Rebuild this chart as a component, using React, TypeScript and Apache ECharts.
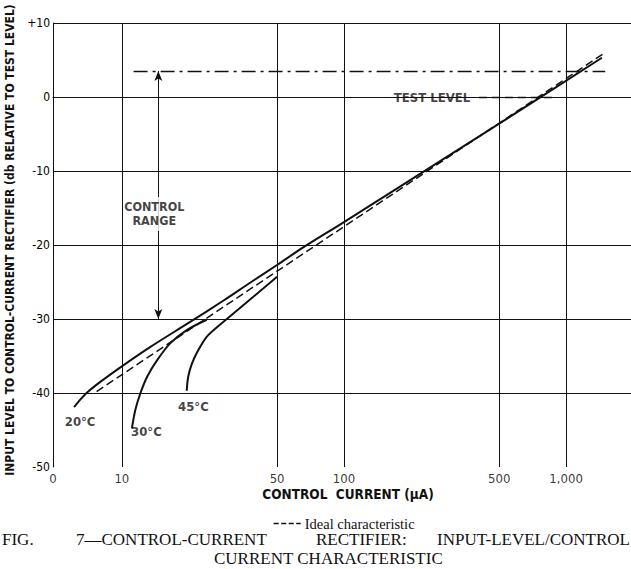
import React, { useEffect, useRef } from 'react';
import * as echarts from 'echarts';

// ---- data ----
const xTicks = [4.9, 10, 50, 100, 500, 1000];
const xTickLabels = ['0', '10', '50', '100', '500', '1,000'];
const vGrid = [10, 50, 100, 500, 1000];
const hGrid = [10, -10, -20, -30, -40];

const curve20 = [
  [6.1, -41.9], [6.5, -40.9], [7.0, -39.9], [8.0, -38.5], [10, -36.4], [13.4, -33.8],
  [20.3, -30.4], [28.7, -27.5], [37.8, -25.1], [50, -22.7], [65, -20.4], [100, -16.9],
  [500, -3.6], [1450, 5.3],
];
const curve30 = [
  [11.1, -44.8], [11.5, -42.3], [12.1, -40.1], [13.0, -37.8], [14.4, -35.6], [16.5, -33.3],
  [19.6, -31.5], [24.1, -30.1],
];
const curve45 = [
  [19.6, -39.7], [19.9, -37.8], [20.7, -36.0], [22.1, -34.2], [24.1, -32.4], [26.8, -31.1],
  [29.7, -30.0], [50, -24.3],
];
const ideal = [[7.7, -39.8], [1480, 5.9]];

const xMin = 4.9;
const xMax = 1960;
const yMin = -50;
const yMax = 10;

const testLevelSegments = [
  { from: 4.9, to: 153, dashed: false },
  { from: 405, to: 875, dashed: true },
  { from: 875, to: 1960, dashed: false },
];
const maxLevel = { db: 3.5, from: 11.3, to: 1500 };
const controlRange = { current: 14.6, top: 3.5, bottom: -30 };

const annotations = [
  { text: '20°C', x: 6.49, y: -43.8 },
  { text: '30°C', x: 12.9, y: -45.2 },
  { text: '45°C', x: 21.0, y: -41.8 },
  { text: 'TEST LEVEL', x: 249, y: 0 },
];
const controlRangeLabel = { text: 'CONTROL\nRANGE', x: 14.0, y: -15.8 };

const captionLine1 = [
  { text: 'FIG.', left: 2 },
  { text: '7—CONTROL-CURRENT', left: 76 },
  { text: 'RECTIFIER:', left: 316 },
  { text: 'INPUT-LEVEL/CONTROL', right: 1 },
];
const captionLine2 = 'CURRENT CHARACTERISTIC';

const DRAFT = '"DejaVu Sans Condensed", "DejaVu Sans", sans-serif';
const SERIF = '"Liberation Serif", "DejaVu Serif", serif';
const INK = '#111';

export default function App() {
  const ref = useRef<HTMLDivElement>(null);
  useEffect(() => {
    document.body.style.margin = '0';
    const chart = echarts.init(ref.current!, null, { renderer: 'svg' });
    const gridLine = { color: INK, width: 1, type: 'solid' };
    const markData: any[] = [];
    vGrid.forEach((v) => markData.push({ xAxis: v, lineStyle: gridLine }));
    hGrid.forEach((v) => markData.push({ yAxis: v, lineStyle: gridLine }));
    testLevelSegments.forEach((s) =>
      markData.push([
        { coord: [s.from, 0], lineStyle: { color: INK, width: s.dashed ? 1.3 : 1, type: s.dashed ? [8, 5] : 'solid' } },
        { coord: [s.to, 0] },
      ])
    );
    markData.push([
      { coord: [maxLevel.from, maxLevel.db], lineStyle: { color: INK, width: 1.3, type: [14, 5, 3, 5] } },
      { coord: [maxLevel.to, maxLevel.db] },
    ]);
    markData.push([
      {
        coord: [controlRange.current, controlRange.top],
        symbol: 'arrow',
        symbolSize: [6, 10],
        lineStyle: { color: INK, width: 1, type: 'solid' },
      },
      { coord: [controlRange.current, controlRange.bottom], symbol: 'arrow', symbolSize: [6, 10] },
    ]);

    const solid = (name: string, data: number[][]) => ({
      name,
      type: 'line',
      data,
      smooth: 0.3,
      symbol: 'none',
      lineStyle: { color: INK, width: 2 },
      z: 4,
    });

    const capFont = `17px ${SERIF}`;

    chart.setOption({
      animation: false,
      backgroundColor: '#fff',
      grid: { left: 53, right: 0, top: 23, bottom: 102, outerBoundsMode: 'none' },
      xAxis: {
        type: 'log',
        min: xMin,
        max: xMax,
        axisLine: { show: true, lineStyle: { color: INK, width: 1 } },
        axisTick: { show: false },
        axisLabel: { show: false },
        splitLine: { show: false },
        name: 'CONTROL  CURRENT (µA)',
        nameLocation: 'middle',
        nameGap: 20,
        nameTextStyle: { fontFamily: DRAFT, fontSize: 13.5, fontWeight: 'bold', color: INK, padding: [0, 0, 0, 12] },
      },
      yAxis: {
        type: 'value',
        min: yMin,
        max: yMax,
        interval: 10,
        axisLine: { show: true, lineStyle: { color: INK, width: 1 } },
        axisTick: { show: false },
        splitLine: { show: false },
        axisLabel: {
          fontFamily: DRAFT,
          fontSize: 12,
          color: '#000',
          margin: 3,
          formatter: (v: number) => (v > 0 ? '+' + v : String(v)),
        },
        name: 'INPUT LEVEL TO CONTROL-CURRENT RECTIFIER (db RELATIVE TO TEST LEVEL)',
        nameLocation: 'middle',
        nameRotate: 90,
        nameGap: 29,
        nameTextStyle: { fontFamily: DRAFT, fontSize: 12, fontWeight: 'bold', color: INK, padding: [0, 0, 0, 10] },
      },
      legend: {
        data: ['Ideal characteristic'],
        top: 511,
        left: 268,
        itemWidth: 27,
        itemHeight: 10,
        itemGap: 4,
        itemStyle: { opacity: 0 },
        lineStyle: { type: [5, 2.5], width: 1.4 },
        textStyle: { fontFamily: SERIF, fontSize: 14.5, color: INK, padding: [0, 0, 0, -1] },
        selectedMode: false,
      },
      graphic: [
        ...captionLine1.map((c) => ({
          type: 'text',
          ...(c.right !== undefined ? { right: c.right } : { left: c.left }),
          top: 531,
          style: { text: c.text, font: capFont, fill: INK },
        })),
        { type: 'text', left: 214, top: 550, style: { text: captionLine2, font: capFont, fill: INK } },
      ],
      series: [
        {
          name: 'ticks',
          type: 'scatter',
          data: xTicks.map((v) => [v, yMin]),
          symbolSize: 0,
          silent: true,
          clip: false,
          label: {
            show: true,
            position: 'bottom',
            distance: 5,
            fontFamily: DRAFT,
            fontSize: 13,
            color: '#000',
            formatter: (p: any) => xTickLabels[p.dataIndex],
          },
          markLine: { silent: true, symbol: ['none', 'none'], label: { show: false }, data: markData },
          z: 2,
        },
        {
          name: 'Ideal characteristic',
          type: 'line',
          data: ideal,
          symbol: 'none',
          lineStyle: { color: INK, width: 1.5, type: [8, 4] },
          itemStyle: { color: INK },
          z: 3,
        },
        solid('20°C', curve20),
        solid('30°C', curve30),
        solid('45°C', curve45),
        {
          name: 'labels',
          type: 'scatter',
          data: annotations.map((a) => [a.x, a.y]),
          symbolSize: 0,
          silent: true,
          label: {
            show: true,
            position: 'inside',
            fontFamily: DRAFT,
            fontSize: 13,
            fontWeight: 'bold',
            color: INK,
            formatter: (p: any) => annotations[p.dataIndex].text,
          },
          z: 6,
        },
        {
          name: 'rangeLabel',
          type: 'scatter',
          data: [[controlRangeLabel.x, controlRangeLabel.y]],
          symbolSize: 0,
          silent: true,
          label: {
            show: true,
            position: 'inside',
            fontFamily: DRAFT,
            fontSize: 12.5,
            fontWeight: 'bold',
            lineHeight: 14,
            color: INK,
            backgroundColor: '#fff',
            padding: [3, 1],
            formatter: () => controlRangeLabel.text,
          },
          z: 7,
        },
      ],
    });
    return () => chart.dispose();
  }, []);
  return <div ref={ref} style={{ width: 631, height: 569 }} />;
}
